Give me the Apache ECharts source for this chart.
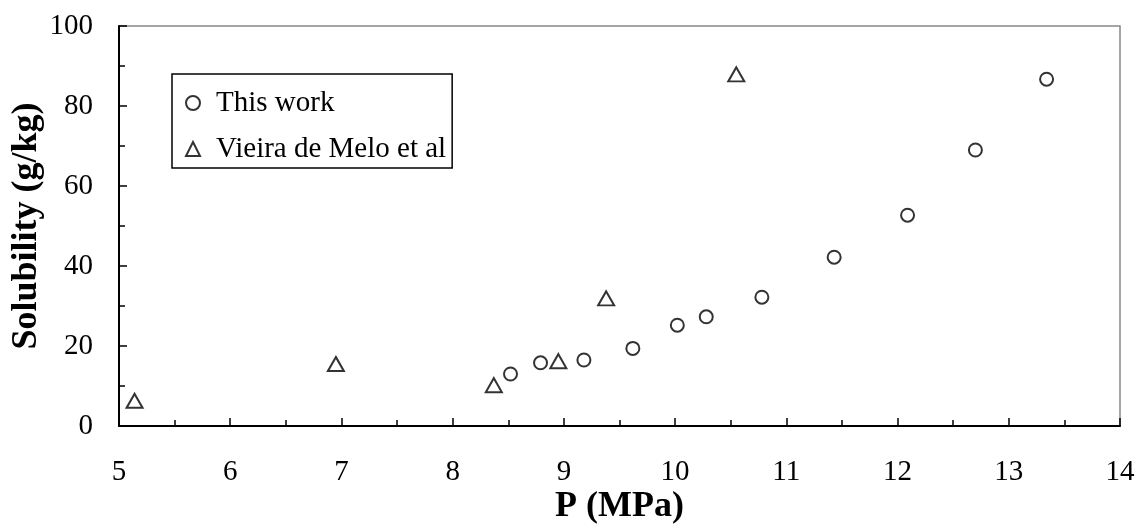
<!DOCTYPE html>
<html>
<head>
<meta charset="utf-8">
<script src="https://cdn.jsdelivr.net/npm/echarts@6/dist/echarts.min.js"></script>
<style>html,body{margin:0;padding:0;background:#fff}#c{width:1138px;height:525px}</style>
</head>
<body>
<div id="c"></div>
<script>
var thisWorkP = [8.52, 8.79, 9.18, 9.62, 10.02, 10.28, 10.78, 11.43, 12.09, 12.70, 13.34];
var thisWorkS = [13.0, 15.8, 16.5, 19.4, 25.2, 27.3, 32.2, 42.2, 52.7, 69.0, 86.7];
var vieiraP = [5.14, 6.95, 8.37, 8.95, 9.38, 10.55];
var vieiraS = [6.3, 15.5, 10.2, 16.2, 31.9, 87.9];
var seriesNames = ['This work', 'Vieira de Melo et al'];
var xTitle = 'P (MPa)';
var yTitle = 'Solubility (g/kg)';

function pairs(xs, ys) { return xs.map(function (x, i) { return [x, ys[i]]; }); }

var font = 'Liberation Serif';
var chart = echarts.init(document.getElementById('c'));
chart.setOption({
  animation: false,
  backgroundColor: '#fff',
  grid: { left: 119, right: 18, top: 26, bottom: 99, containLabel: false, outerBoundsMode: 'none',
          show: true, borderColor: '#888', borderWidth: 1.5, backgroundColor: 'transparent' },
  legend: {
    orient: 'vertical', left: 172, top: 74,
    borderColor: '#000', borderWidth: 1.5, backgroundColor: '#fff',
    padding: [14, 6, 4, 13], itemGap: 16,
    itemWidth: 14, itemHeight: 14,
    textStyle: { fontFamily: font, fontSize: 29, color: '#000', lineHeight: 30, padding: [0, 0, 0, 11] },
    data: [
      { name: seriesNames[0], icon: 'circle', itemStyle: { color: '#fff', borderColor: '#000', borderWidth: 2 } },
      { name: seriesNames[1], icon: 'triangle', itemStyle: { color: '#fff', borderColor: '#000', borderWidth: 2 } }
    ]
  },
  xAxis: {
    type: 'value', min: 5, max: 14, interval: 1,
    name: xTitle, nameLocation: 'middle', nameGap: 63, nameMoveOverlap: false,
    nameTextStyle: { fontFamily: font, fontSize: 36, fontWeight: 'bold', color: '#000' },
    axisLine: { show: true, onZero: false, lineStyle: { color: '#000', width: 2 } },
    axisTick: { show: true, inside: true, length: 8, lineStyle: { color: '#000', width: 1.5 } },
    minorTick: { show: true, splitNumber: 2, length: 6, lineStyle: { color: '#000', width: 1.5 } },
    axisLabel: { fontFamily: font, fontSize: 29, color: '#000', margin: 32 },
    splitLine: { show: false }
  },
  yAxis: {
    type: 'value', min: 0, max: 100, interval: 20,
    name: yTitle, nameLocation: 'middle', nameGap: 74, nameMoveOverlap: false,
    nameTextStyle: { fontFamily: font, fontSize: 36, fontWeight: 'bold', color: '#000' },
    axisLine: { show: true, onZero: false, lineStyle: { color: '#000', width: 2 } },
    axisTick: { show: true, inside: true, length: 8, lineStyle: { color: '#000', width: 1.5 } },
    minorTick: { show: true, splitNumber: 2, length: 6, lineStyle: { color: '#000', width: 1.5 } },
    axisLabel: { fontFamily: font, fontSize: 29, color: '#000', margin: 26 },
    splitLine: { show: false }
  },
  series: [
    {
      name: seriesNames[0], type: 'scatter', symbol: 'circle', symbolSize: 13,
      itemStyle: { color: '#fff', borderColor: '#000', borderWidth: 2 },
      data: pairs(thisWorkP, thisWorkS)
    },
    {
      name: seriesNames[1], type: 'scatter', symbol: 'triangle', symbolSize: [16, 14],
      itemStyle: { color: '#fff', borderColor: '#000', borderWidth: 2 },
      data: pairs(vieiraP, vieiraS)
    }
  ]
});
</script>
</body>
</html>
